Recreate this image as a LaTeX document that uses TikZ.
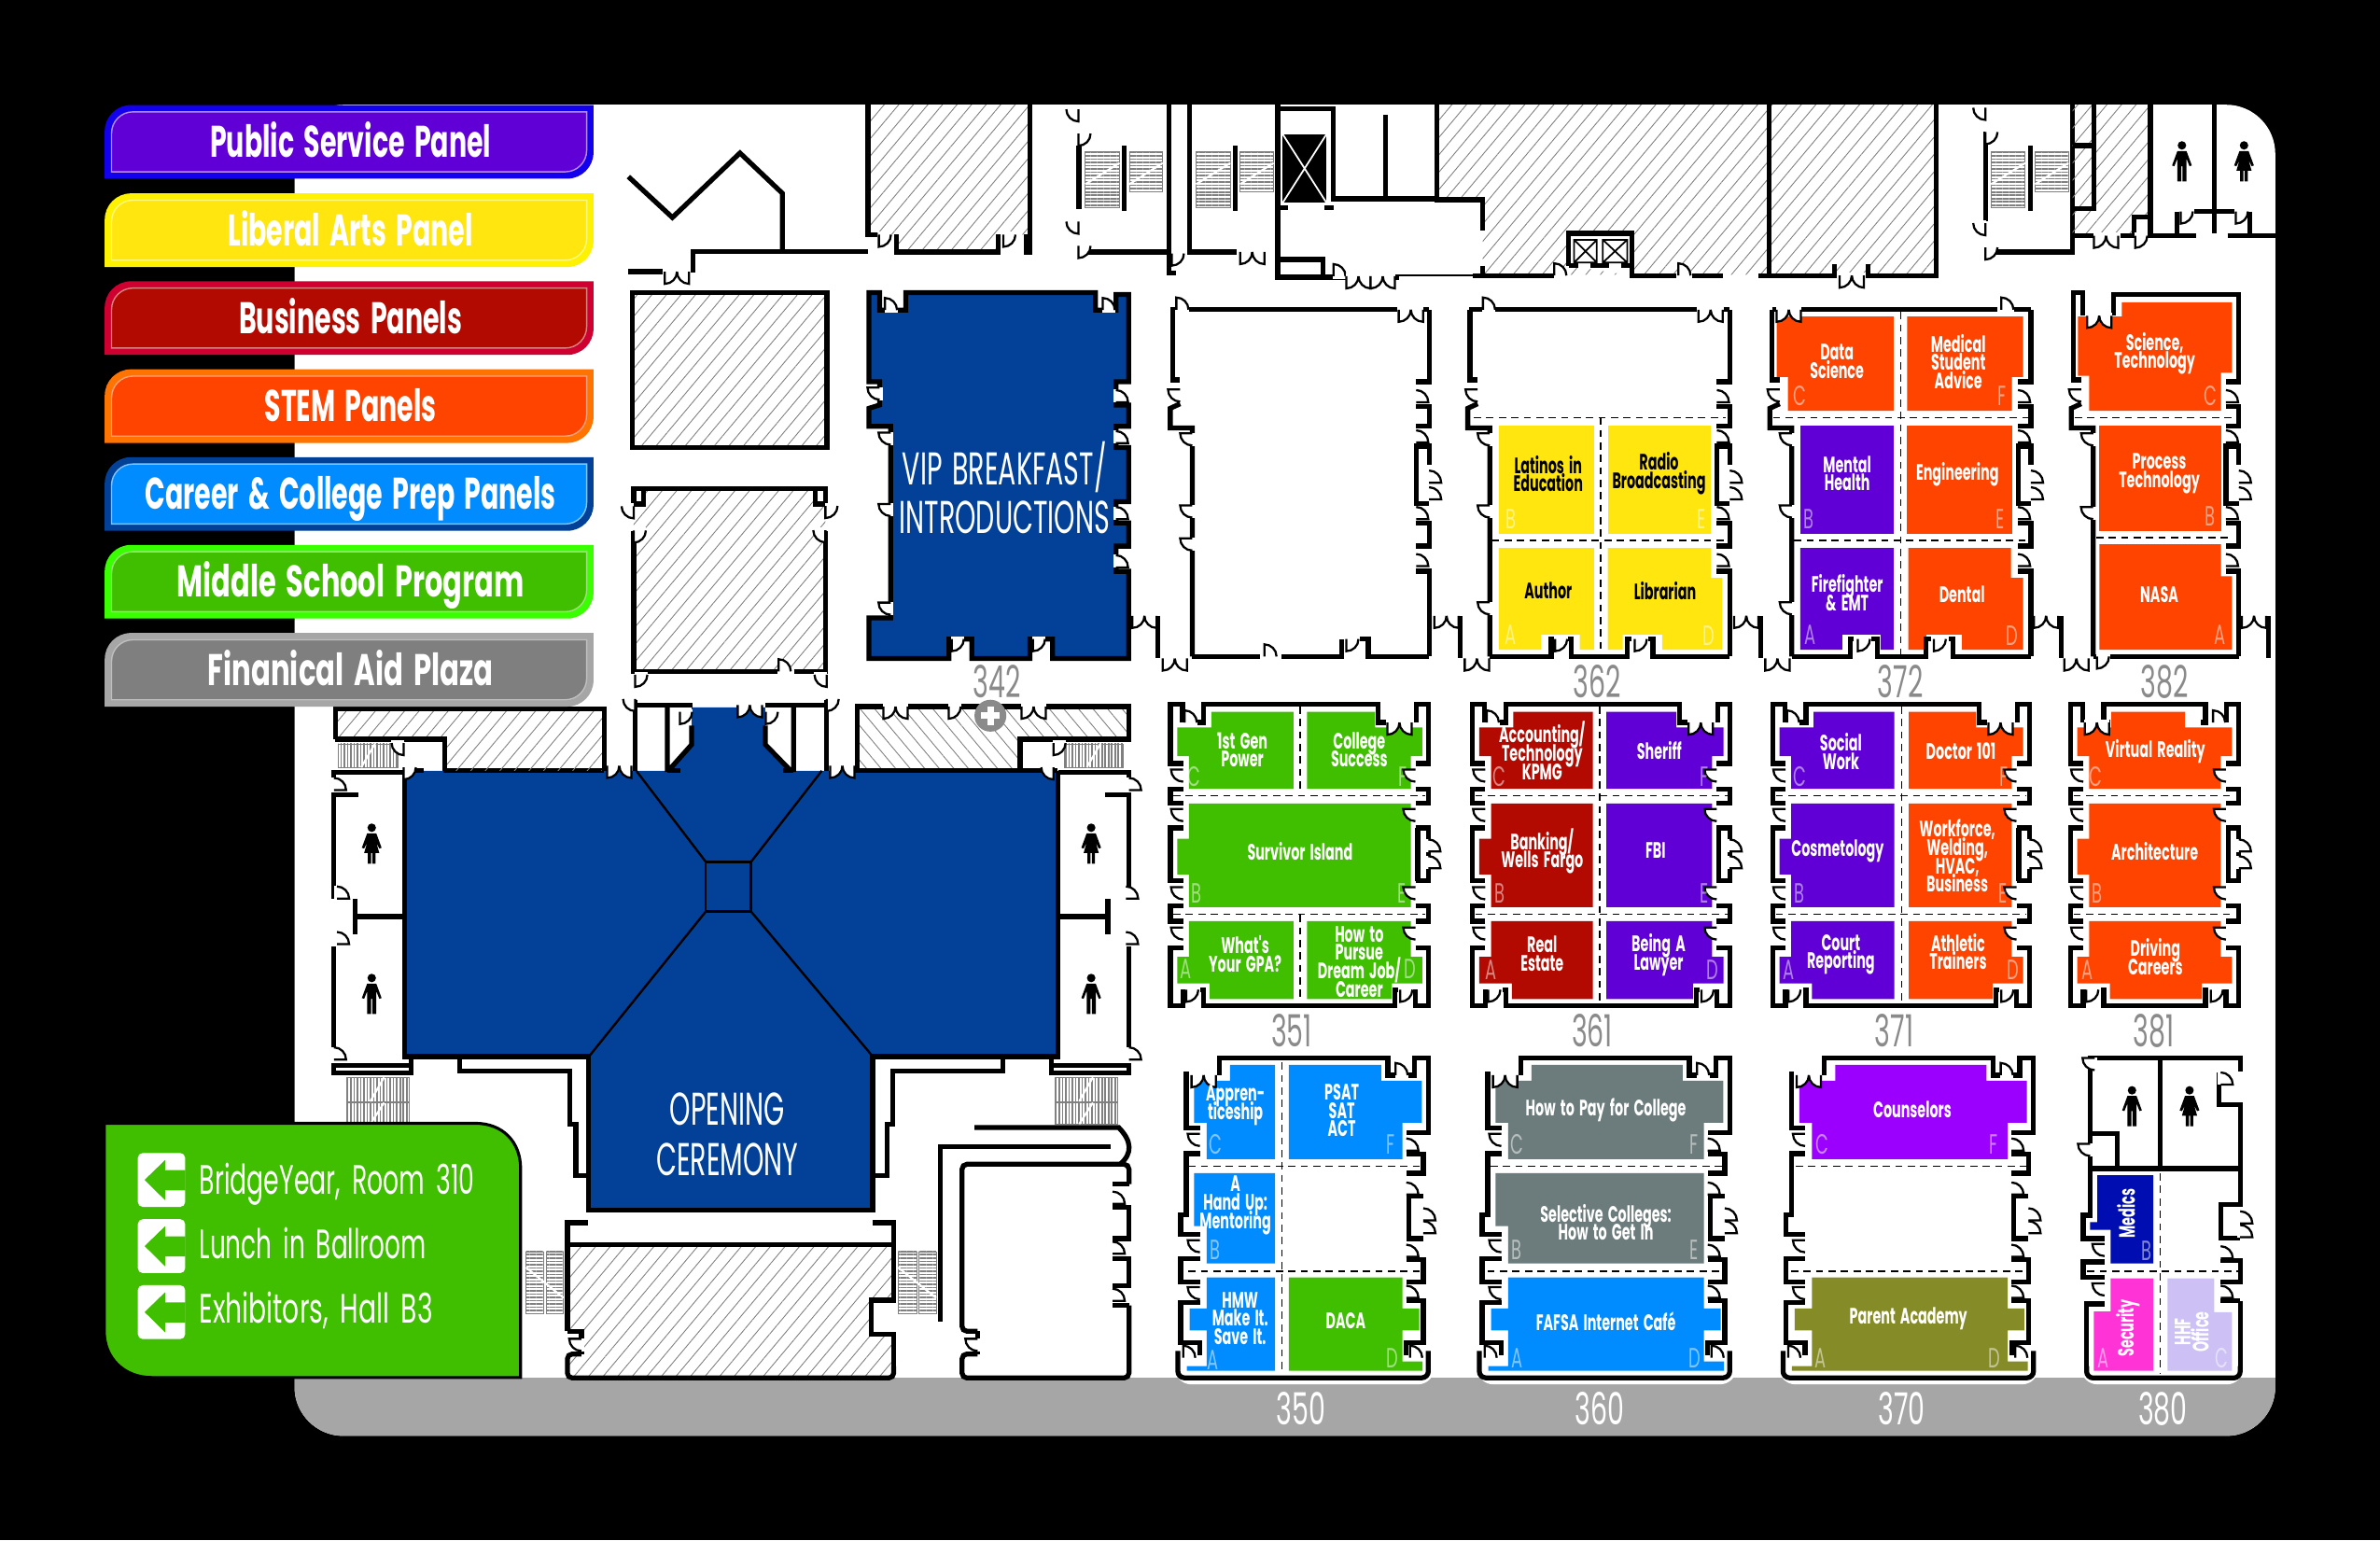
\documentclass[tikz,border=0pt]{standalone}
\usepackage{fontspec}
\usetikzlibrary{patterns.meta}
\newfontfamily\fut[FakeStretch=.6,WordSpace=1.7]{Poppins}
\newfontfamily\futn[FakeStretch=.58,WordSpace=1.4]{Poppins}

\definecolor{cPurple}{RGB}{96,0,214}
\definecolor{cYellow}{RGB}{255,230,15}
\definecolor{cRed}{RGB}{178,10,0}
\definecolor{cOrange}{RGB}{255,68,0}
\definecolor{cBlue}{RGB}{0,140,255}
\definecolor{cGreen}{RGB}{63,191,0}
\definecolor{cGrey}{RGB}{127,127,127}
\definecolor{cHall}{RGB}{3,65,153}
\definecolor{cTeal}{RGB}{108,123,123}
\definecolor{cViolet}{RGB}{155,0,255}
\definecolor{cOlive}{RGB}{133,140,39}
\definecolor{cNavy}{RGB}{0,13,176}
\definecolor{cPink}{RGB}{255,51,214}
\definecolor{cLilac}{RGB}{204,192,245}
\definecolor{cBand}{RGB}{166,166,166}
\definecolor{cNum}{RGB}{138,138,138}

\tikzset{
	wall/.style={line width=1.5pt},
	thinwall/.style={line width=.7pt},
	dsh/.style={line width=.35pt,dash pattern=on 2.2pt off 1.6pt},
	hatch/.style={pattern={Lines[angle=50,distance=3.4pt,line width=.25pt]},pattern color=gray},
	hatchb/.style={pattern={Lines[angle=-50,distance=3.4pt,line width=.25pt]},pattern color=gray},
	du/.style={yscale=-1},
	dr/.style={rotate=90},
	dl/.style={rotate=-90},
	panel/.style={align=center,inner sep=0pt,text=white,font=\fut\bfseries\fontsize{6.8}{5.6}\selectfont\lineskiplimit-10pt},
	letter/.style={inner sep=0pt,text=white,text opacity=.5,font=\fut\fontsize{8.5}{9}\selectfont},
	number/.style={inner sep=0pt,text=cNum,font=\fut\fontsize{13.5}{14}\selectfont},
	bigtxt/.style={inner sep=0pt,text=white,font=\futn\fontsize{14}{15}\selectfont},
	legendtxt/.style={inner sep=0pt,anchor=base,text=white,font=\fut\bfseries\fontsize{13.5}{15}\selectfont},
	signtxt/.style={inner sep=0pt,anchor=base west,text=white,font=\fut\fontsize{12.5}{14}\selectfont},
	door/.pic={
		\fill[white] (-.3,-1.9) rectangle (8.3,1.9);
		\filldraw[fill=white,line width=.65pt] (0,0) -- (0,8) .. controls (4.4,8) and (8,4.4) .. (8,0);
	},
	ddoor/.pic={
		\pic at (0,0) {door};
		\pic[xscale=-1] at (16,0) {door};
	},
	man/.pic={
		\fill (0,-10.7) circle[radius=2.8];
		\fill (-3,-7)--(3,-7)--(6.5,2.5)--(5,3)--(3,-2)--(3,13)--(.4,13)--(.4,3)--(-.4,3)--(-.4,13)--(-3,13)--(-3,-2)--(-5,3)--(-6.5,2.5)--cycle;
	},
	woman/.pic={
		\fill (0,-10.7) circle[radius=2.8];
		\fill (-3,-7)--(3,-7)--(6.5,2.5)--(5,3)--(3,-1)--(5,6)--(2.5,6)--(2.5,13)--(.4,13)--(.4,6)--(-.4,6)--(-.4,13)--(-2.5,13)--(-2.5,6)--(-5,6)--(-3,-1)--(-5,3)--(-6.5,2.5)--cycle;
	},
	upleft/.pic={
		\draw[wall] (1.5,204)--(1.5,250.2)--(6.5,250.2);
		\draw[wall] (6.5,266)--(0,269)--(0,282)--(14.5,282)--(14.5,432.5);
		\pic[dl] at (6.5,256.6) {door};
		\pic[dl] at (14.5,285.5) {door};
	},
	upright/.pic={
		\draw[wall] (0,204)--(0,251.5)--(-8.5,251.5);
		\draw[wall] (-8.5,268)--(0,268)--(0,280.8)--(-8.5,280.8);
		\draw[wall] (0,306)--(0,294)--(-8.5,294)--(-8.5,331.8)--(0,331.8);
		\draw[wall] (-8.5,344.5)--(0,344.5)--(0,359.8)--(-8.5,359.8);
		\draw[wall] (-8.5,376.4)--(0,376.4)--(0,432.5);
		\pic[dr] at (-8.5,265) {door};
		\pic[dr] at (-8.5,291.5) {door};
		\pic[dr] at (0,318) {door};
		\pic[dr] at (0,329) {door};
		\pic[dr] at (-8.5,342) {door};
		\pic[dr] at (-8.5,373) {door};
	},
	midside/.pic={
		\draw[wall] (8,476)--(8,464)--(0,464)--(0,503)--(8.5,503);
		\draw[wall] (8.5,520)--(0,520)--(0,529)--(8.5,529);
		\draw[wall] (8.5,545.5)--(0,545.5)--(0,580.2)--(8.5,580.2);
		\draw[wall] (8.5,596.6)--(0,596.6)--(0,606.9)--(8.5,606.9);
		\draw[wall] (8.5,624.3)--(0,624.3)--(0,662.5)--(8.5,662.5)--(8.5,652);
		\pic[dl] at (8.5,507) {door};
		\pic[dl] at (8.5,533) {door};
		\pic[dl] at (8.5,584.5) {door};
		\pic[dl] at (8.5,611) {door};
	},
	closet/.pic={
		\draw[wall] (-7,545.5)--(-7,580.2);
		\pic[dr] at (0,561) {door};
		\pic[dr] at (0,572) {door};
	},
	lowroom/.pic={
		\draw[wall] (5.6,9.2)--(5.6,46)--(14.5,46);
		\draw[wall] (14.5,63)--(5.6,63)--(5.6,103.5)--(1.8,103.5)--(1.8,116)--(14.5,116);
		\draw[wall] (14.5,132)--(1.8,132)--(1.8,147.6)--(14.5,147.6);
		\draw[wall] (14.5,161)--(1.8,161)--(1.8,187.6)--(14.5,187.6)--(14.5,196);
		\draw[wall,rounded corners=2pt] (0,193)--(0,210.7)--(165,210.7)--(165,193);
		\draw[wall] (27.3,11.3)--(27.3,0)--(138.3,0)--(138.3,11.3)--(143.4,11.3);
		\draw[wall] (151.5,11.3)--(156,11.3)--(156,0)--(165,0)--(165,49)--(150.5,49);
		\draw[wall] (150.5,63.5)--(161.7,63.5)--(161.7,76)--(150.5,76);
		\draw[wall] (161.7,91)--(152,91)--(152,119)--(161.7,119);
		\draw[wall] (150.5,133)--(161.7,133)--(161.7,147.6)--(150.5,147.6);
		\draw[wall] (150.5,160)--(161.7,160)--(161.7,187.6)--(150.5,187.6)--(150.5,196);
		\pic[du] at (9,11.3) {ddoor};
		\pic[du] at (143.4,11.3) {door};
		\pic[dl] at (14.5,50) {door};
		\pic[dl] at (14.5,120) {door};
		\pic[dl] at (14.5,151) {door};
		\pic[dr] at (150.5,61) {door};
		\pic[dr] at (150.5,90) {door};
		\pic[dr] at (150.5,131) {door};
		\pic[dr] at (150.5,158) {door};
		\pic[dr] at (161.7,107) {door};
		\pic[dr] at (161.7,115.5) {door};
		\pic[du] at (3.5,197.5) {door};
		\pic[du] at (153,197.5) {door};
	},
	restroom/.pic={
		\draw[wall] (220,512)--(220,508.8)--(266.5,508.8);
		\draw[wall] (236,523.8)--(220,523.8)--(220,592);
		\draw[wall] (220,623.8)--(220,690);
		\draw[wall] (234,592)--(234,615.5);
		\draw[wall] (234,603.8)--(266.5,603.8);
		\draw[wall] (220,702) rectangle (271,707);
		\draw[wall] (271,696)--(271,702);
		\pic[dr] at (220,520.5) {door};
		\pic[dr] at (222,592) {door};
		\pic[dr] at (222,622) {door};
		\pic[dr] at (220,698) {door};
		\pic at (244.9,556) {woman};
		\pic at (244.9,655) {man};
	},
}

% one wall row of the building, cut down to a column by the clip
\newcommand{\rowT}[2]{(#1+27,469)--(#2-35,469)--(#2-35,479.3)--(#2-4,479.3)--(#2-4,498.2)--(#2-11.5,498.2)--(#2-11.5,519.7)--(#1+12.3,519.7)--(#1+12.3,498.2)--(#1+4.6,498.2)--(#1+4.6,479.3)--(#1+27,479.3)--cycle}
\newcommand{\rowM}[2]{(#1+12.3,529.4)--(#2-11.5,529.4)--(#2-11.5,597.6)--(#1+12.3,597.6)--(#1+12.3,576.1)--(#1+4.6,576.1)--(#1+4.6,552.5)--(#1+12.3,552.5)--cycle}
\newcommand{\rowB}[2]{(#1+12.3,606.9)--(#2-11.5,606.9)--(#2-11.5,630.4)--(#2-4,630.4)--(#2-4,647.9)--(#2-24,647.9)--(#2-24,658.1)--(#1+26,658.1)--(#1+26,647.9)--(#1+4.6,647.9)--(#1+4.6,630.4)--(#1+12.3,630.4)--cycle}
\newcommand{\lowT}[1]{(#1+34.4,701.5)--(#1+134,701.5)--(#1+134,712)--(#1+160.7,712)--(#1+160.7,739.6)--(#1+148,739.6)--(#1+148,763.6)--(#1+19,763.6)--(#1+19,739.6)--(#1+10.7,739.6)--(#1+10.7,712)--(#1+34.4,712)--cycle}
\newcommand{\lowM}[1]{(#1+10.7,772.9)--(#1+148,772.9)--(#1+148,832.3)--(#1+19,832.3)--(#1+19,807.7)--(#1+10.7,807.7)--cycle}
\newcommand{\lowB}[1]{(#1+19,841.5)--(#1+148,841.5)--(#1+148,862)--(#1+159,862)--(#1+159,876.4)--(#1+148,876.4)--(#1+148,896.9)--(#1+161.2,896.9)--(#1+161.2,903)--(#1+5.9,903)--(#1+5.9,900)--(#1+19,900)--(#1+19,876.4)--(#1+7.7,876.4)--(#1+7.7,862)--(#1+19,862)--cycle}
\newcommand{\cell}[4]{\begin{scope}\clip (#1,0) rectangle (#2,1015);\fill[#3] #4;\end{scope}}

\newcommand{\legendbox}[6]{
	\fill[#4] (69,#2+48.5) [rounded corners=8pt] -- (69,#2) [sharp corners] -- (391,#2) [rounded corners=8pt] -- (391,#2+48.5) [sharp corners] -- cycle;
	\filldraw[fill=#3,draw=#5,line width=.4pt] (73.5,#2+44) [rounded corners=6.5pt] -- (73.5,#2+4.5) [sharp corners] -- (386.5,#2+4.5) [rounded corners=6.5pt] -- (386.5,#2+44) [sharp corners] -- cycle;
	\node[legendtxt] (#1) at (231,#2+34.5) {#6};
}
\newcommand{\arrowicon}[1]{
	\fill[white,rounded corners=1.5pt] (90.8,#1) rectangle (122,#1+35.5);
	\fill[cGreen] (95.3,#1+17.7)--(108.7,#1+4.7)--(108.7,#1+11.3)--(122.1,#1+11.3)--(122.1,#1+24.6)--(108.7,#1+24.6)--(108.7,#1+31)--cycle;
}
\newcommand{\stairs}[5]{
	\draw[line width=.2pt,gray,pattern={Lines[angle=#1,distance=1pt,line width=.45pt]},pattern color=gray] (#2,#3) rectangle (#4,#5);
}
\newcommand{\stairset}[1]{
	\stairs{0}{#1}{100}{#1+22.5}{137}
	\stairs{0}{#1+29}{100}{#1+51}{126.5}
	\draw[wall] (#1+25.8,96)--(#1+25.8,138.8);
	\draw[white,line width=.6pt] (#1,121.4)--(#1+22.5,107.4);
	\draw[white,line width=.6pt] (#1+29,121.4)--(#1+51,107.4);
}
\newcommand{\midroom}[2]{
	\pic at (#1,0) {midside};
	\pic[xscale=-1] at (#2,0) {midside};
	\pic at (#2,0) {closet};
	\draw[wall] (#1+20,652)--(#1+22,652)--(#1+22,662.5)--(#2-22,662.5)--(#2-22,652)--(#2-20,652);
	\pic at (#1+10.5,652) {door};
	\pic at (#2-18.5,652) {door};
}
\newcommand{\midtop}[2]{
	\draw[wall] (#1+18,476)--(#1+22,476)--(#1+22,464)--(#2-33,464)--(#2-33,476)--(#2-28,476);
	\pic[du] at (#1+9.5,476) {door};
	\pic[du] at (#2-27,476) {ddoor};
}

\begin{document}
\begin{tikzpicture}[x=0.016263cm,y=-0.016263cm]
\useasboundingbox (0,0) rectangle (1568,1014.6);
\fill[black] (0,0) rectangle (1568,1014.6);
\fill[white,rounded corners=15pt] (194,69) rectangle (1499,946);
\begin{scope}
\clip[rounded corners=15pt] (194,69) rectangle (1499,946);
\fill[cBand] (194,907.5) rectangle (1499,946);
\end{scope}
\fill[white,rounded corners=5pt] (774,880) rectangle (945,912);
\fill[white,rounded corners=5pt] (973,880) rectangle (1144,912);
\fill[white,rounded corners=5pt] (1172,880) rectangle (1343,912);
\fill[white,rounded corners=5pt] (1371,880) rectangle (1478,912);

% top strip
\draw[wall] (414,116.4)--(443,143.3)--(487.5,100.8)--(515.5,127.4)--(515.5,165.8);
\draw[wall] (456.5,179.6)--(456.5,165.8)--(571.8,165.8);
\draw[wall] (414,179)--(436.5,179);
\pic[du] at (438,179) {ddoor};

\fill[hatch] (571.8,69)--(678.5,69)--(678.5,166)--(676,166)--(676,154.6)--(657.5,154.6)--(657.5,166)--(590.8,166)--(590.8,154.6)--(571.8,154.6)--cycle;
\draw[wall] (578,154.6)--(571.8,154.6)--(571.8,69);
\draw[wall] (590.8,154.6)--(590.8,166)--(657.5,166)--(657.5,154.6);
\draw[wall] (676,154.6)--(676,166)--(678.5,166)--(678.5,69);
\pic at (579,154.6) {door};
\pic at (661,154.6) {door};

\stairset{715}
\stairset{788}
\stairset{1311.7}
\draw[wall] (710.8,96)--(710.8,138);
\draw[wall] (710,166)--(768.5,166);
\draw[wall] (770,69)--(770,180)--(775,180);
\draw[wall] (783.5,69)--(783.5,166)--(815,166);
\pic[dr] at (710.5,88) {ddoor};
\pic[dr] at (710.5,162) {ddoor};
\pic at (772,167) {door};
\pic[du] at (817,166) {ddoor};

\fill[hatch] (946.8,69)--(1275.5,69)--(1275.5,181)--(976.8,181)--(976.8,131.6)--(946.8,131.6)--cycle;
\draw[wall] (841.8,69)--(841.8,182.6)--(921.8,182.6);
\draw[wall] (841.8,71.7)--(878.5,71.7)--(878.5,130.9)--(946.8,130.9);
\draw[wall] (912.8,75.5)--(912.8,130.9);
\draw[wall] (946.8,69)--(946.8,131.6)--(976.8,131.6)--(976.8,152);
\draw[wall] (976.8,175)--(976.8,181);
\draw[thinwall] (921.8,181.5)--(970,181.5);
\draw[wall] (970,181.5)--(1023.5,181.5);
\draw[wall] (841.8,171)--(871.8,171)--(871.8,182);
\fill[black] (845,88.3) rectangle (874,133.7);
\draw[white,line width=.5pt] (845,88.3)--(874,133.7) (874,88.3)--(845,133.7);
\draw[wall] (841.8,136.7)--(848.5,136.7);
\draw[wall] (872.8,136.7)--(878.5,136.7);
\pic[du] at (878.5,182) {door};
\pic[du] at (887,182) {ddoor};
\pic[du] at (903,182) {ddoor};
\pic[du] at (1024,181.5) {door};

\draw[wall,fill=white] (1033.5,175)--(1033.5,153.8)--(1075,153.8)--(1075,181.5);
\fill[white] (1037,158) rectangle (1072,173);
\draw[line width=.5pt] (1037,158) rectangle (1052,173) (1037,158)--(1052,173) (1052,158)--(1037,173);
\draw[line width=.5pt] (1056,158) rectangle (1072,173) (1056,158)--(1072,173) (1072,158)--(1056,173);
\draw[wall] (1033.5,175)--(1040,175);
\draw[wall] (1048,175)--(1060,175);
\draw[wall] (1068,175)--(1075,175);
\draw[wall] (1073.5,181.5)--(1104.3,181.5);
\pic[du] at (1105.8,181.5) {door};
\draw[wall] (1114.6,181.5)--(1135,181.5);
\draw[wall] (1158.7,181.5)--(1208.7,181.5)--(1208.7,174);
\pic[du] at (1212,181.5) {ddoor};
\draw[wall] (1230.8,174)--(1230.8,181.5)--(1275.5,181.5)--(1275.5,69);
\draw[wall] (1165.5,69)--(1165.5,181.5);

\draw[wall] (1308,87)--(1308,145.6);
\draw[wall] (1308,166)--(1365.5,166)--(1365.5,69);
\pic[dr] at (1308,87) {ddoor};
\pic[dr] at (1308,163) {ddoor};
\fill[hatch] (1365.5,69)--(1416.7,69)--(1416.7,143)--(1405.8,143)--(1405.8,155.3)--(1365.5,155.3)--cycle;
\draw[wall] (1379.3,69)--(1379.3,137.5)--(1365.5,137.5);
\draw[wall] (1365.5,96)--(1379.3,96);
\draw[wall] (1365.5,155.3)--(1379.3,155.3);
\pic at (1379.5,155.3) {ddoor};
\draw[wall] (1397,155.3)--(1405.8,155.3)--(1405.8,143)--(1416.7,143);
\draw[wall] (1416.7,69)--(1416.7,155.3)--(1447,155.3);
\draw[wall] (1434.3,139.3)--(1434.3,155.3);
\draw[wall] (1445.5,139.3)--(1472,139.3);
\draw[wall] (1458.7,69)--(1458.7,154);
\draw[wall] (1482.3,139.3)--(1482.3,155.3);
\draw[wall] (1467.6,155.3)--(1499,155.3);
\pic at (1406.7,155.3) {door};
\pic at (1436.7,139.3) {door};
\pic at (1473,139.3) {door};
\pic at (1437.5,106.5) {man};
\pic at (1478.4,106.5) {woman};

% hatched boxes by the hall
\draw[wall,hatch] (416.5,192.8) rectangle (544.8,294.9);
\fill[hatch] (417.5,321.8) rectangle (543.8,442.3);
\draw[wall] (417.5,332)--(417.5,321.8)--(543.8,321.8)--(543.8,332);
\draw[wall] (417.5,350)--(417.5,442.3)--(512,442.3);
\draw[wall] (523,442.3)--(543.8,442.3)--(543.8,350);
\draw[wall,fill=white] (417.5,321.8) rectangle (424,332);
\draw[wall,fill=white] (537.3,321.8) rectangle (543.8,332);
\pic[dr] at (417.5,349.5) {ddoor};
\pic[dl] at (543.8,333.3) {ddoor};
\pic[du] at (513,442.3) {door};

% vip room
\filldraw[wall,fill=cHall] (572.5,192.8)--(572.5,251.5)--(579.5,251.5)--(579.5,266.8)--(572.5,269)--(572.5,280.8)--(586.8,280.8)--(586.8,407)--(572.5,407)--(572.5,433.8)--(625.2,433.8)--(625.2,421)--(640.2,421)--(640.2,433.8)--(678.5,433.8)--(678.5,421)--(693.5,421)--(693.5,433.8)--(743.5,433.8)--(743.5,376.4)--(735.2,376.4)--(735.2,359.8)--(743.5,359.8)--(743.5,344.5)--(735.2,344.5)--(735.2,330.5)--(743.5,330.5)--(743.5,294.8)--(735.2,294.8)--(735.2,280.8)--(743.5,280.8)--(743.5,266.8)--(735.2,266.8)--(735.2,251.5)--(743.5,251.5)--(743.5,194)--(735.2,194)--(735.2,204.3)--(721.8,204.3)--(721.8,192.8)--(596.8,192.8)--(596.8,204.3)--(579.5,204.3)--(579.5,192.8)--cycle;
\pic[du] at (583,204.3) {door};
\pic[du] at (726.5,204.3) {door};
\pic[dl] at (579.5,255.3) {door};
\pic[dl] at (586.8,285) {door};
\pic[dl] at (586.8,332) {door};
\pic[dl] at (586.8,397) {door};
\pic[dr] at (735.2,265) {door};
\pic[dr] at (735.2,292) {door};
\pic[dr] at (735.2,342) {door};
\pic[dr] at (735.2,373.8) {door};
\pic at (627,421) {door};
\pic at (680.5,421) {door};
\draw[wall] (762.8,405.7)--(762.8,433.8);
\pic at (746,405.7) {ddoor};
\pic[du] at (766,433.8) {ddoor};

% blank room
\pic at (771,0) {upleft};
\pic at (941.5,0) {upright};
\draw[wall] (771,204)--(774,204);
\draw[wall] (783.5,204)--(920.2,204);
\draw[wall] (938,204)--(941.5,204);
\pic[du] at (775,204) {door};
\pic[du] at (921.5,204) {ddoor};
\draw[wall] (785.5,432.5)--(830,432.5);
\draw[wall] (844.5,432.5)--(884,432.5)--(884,421);
\draw[wall] (896,421)--(901.5,421)--(901.5,432.5)--(941.5,432.5);
\pic[du] at (833,432.5) {door};
\pic at (887,421) {door};
\pic[dl] at (785.5,333) {door};
\pic[dl] at (785.5,354.7) {door};
\draw[wall] (961.8,405.7)--(961.8,433.8);
\pic at (945,405.7) {ddoor};
\pic[du] at (965,433.8) {ddoor};

% room 362
\fill[cYellow] (987.5,280.3) rectangle (1050.2,351.7);
\fill[cYellow] (1059.3,280.3) rectangle (1127.3,351.7);
\fill[cYellow] (987.5,361)--(1050.2,361)--(1050.2,428)--(1040.8,428)--(1040.8,418)--(1015.2,418)--(1015.2,428)--(987.5,428)--cycle;
\fill[cYellow] (1059.3,361)--(1127.3,361)--(1127.3,380.7)--(1134.6,380.7)--(1134.6,428)--(1095,428)--(1095,418)--(1069,418)--(1069,428)--(1059.3,428)--cycle;
\draw[dsh] (971,275)--(1137,275);
\draw[dsh] (983,356)--(1137,356);
\draw[dsh] (1054.5,275)--(1054.5,431);
\pic at (967,0) {upleft};
\pic at (1139.6,0) {upright};
\draw[wall] (968,204)--(976.8,204);
\draw[wall] (985,204)--(1117.6,204);
\draw[wall] (1136,204)--(1139.6,204);
\pic[du] at (977,204) {door};
\pic[du] at (1119,204) {ddoor};
\draw[wall] (981.5,432.5)--(1022,432.5)--(1022,421)--(1024,421);
\draw[wall] (1033,421)--(1035,421)--(1035,432.5)--(1072,432.5)--(1072,421)--(1075,421);
\draw[wall] (1086,421)--(1089,421)--(1089,432.5)--(1139.6,432.5);
\pic at (1024.5,421) {door};
\pic at (1077,421) {door};
\pic[dl] at (981.5,333) {door};
\pic[dl] at (981.5,396.8) {door};
\draw[wall] (1160,405.7)--(1160,433.8);
\pic at (1142.5,405.7) {ddoor};
\pic[du] at (1163,433.8) {ddoor};

% room 372
\fill[cOrange] (1170.5,208.6)--(1247.6,208.6)--(1247.6,270.6)--(1177.9,270.6)--(1177.9,248.4)--(1170.5,248.4)--cycle;
\fill[cOrange] (1256.4,208.6)--(1332.9,208.6)--(1332.9,248.4)--(1325.5,248.4)--(1325.5,270.6)--(1256.4,270.6)--cycle;
\fill[cPurple] (1186,280.3) rectangle (1247.6,351.7);
\fill[cOrange] (1256.4,280.3) rectangle (1325.5,351.7);
\fill[cPurple] (1186,361)--(1247.6,361)--(1247.6,428)--(1239,428)--(1239,418)--(1213.7,418)--(1213.7,428)--(1186,428)--cycle;
\fill[cOrange] (1257.3,361)--(1324.9,361)--(1324.9,380.7)--(1332.9,380.7)--(1332.9,428)--(1292.6,428)--(1292.6,418)--(1269,418)--(1269,428)--(1257.3,428)--cycle;
\draw[dsh] (1168,275)--(1336,275);
\draw[dsh] (1182,356)--(1336,356);
\draw[dsh] (1252,205.6)--(1252,431);
\pic at (1166,0) {upleft};
\pic at (1338,0) {upright};
\draw[wall] (1167.5,204)--(1170,204);
\draw[wall] (1186,204)--(1316,204);
\draw[wall] (1327,204)--(1338,204);
\pic[du] at (1170.5,204) {ddoor};
\pic[du] at (1318.5,204) {door};
\draw[wall] (1180.5,432.5)--(1219,432.5)--(1219,421)--(1221,421);
\draw[wall] (1233,421)--(1236.7,421)--(1236.7,432.5)--(1269,432.5)--(1269,421)--(1272,421);
\draw[wall] (1284,421)--(1286.7,421)--(1286.7,432.5)--(1338,432.5);
\pic at (1224,421) {door};
\pic at (1274,421) {door};
\pic[dl] at (1180.5,333) {door};
\pic[dl] at (1180.5,396.8) {door};
\draw[wall] (1357.8,405.7)--(1357.8,433.8);
\pic at (1340,405.7) {ddoor};
\pic[du] at (1360,433.8) {ddoor};

% room 382
\fill[cOrange] (1397.9,199.2)--(1470.5,199.2)--(1470.5,245.6)--(1463.2,245.6)--(1463.2,270.6)--(1376.4,270.6)--(1376.4,247.6)--(1369,247.6)--(1369,208.6)--(1397.9,208.6)--cycle;
\fill[cOrange] (1383.2,280.3) rectangle (1463.2,349.6);
\fill[cOrange] (1383.2,358.5)--(1463.2,358.5)--(1463.2,379.7)--(1470.5,379.7)--(1470.5,428)--(1383.2,428)--cycle;
\draw[dsh] (1367,275)--(1471,275);
\draw[dsh] (1381,354.2)--(1471,354.2);
\pic at (1364.6,0) {upleft};
\pic at (1475,0) {upright};
\draw[wall] (1366,204)--(1366,192.8)--(1372,192.8)--(1372,208);
\draw[wall] (1392.6,208)--(1392.6,194)--(1475,194)--(1475,204);
\draw[wall] (1379,432.5)--(1381,432.5);
\draw[wall] (1390,432.5)--(1475,432.5);
\pic[du] at (1375,208) {ddoor};
\pic at (1381.5,432.5) {door};
\pic[dl] at (1379,334) {door};
\draw[wall] (1494.6,405.7)--(1494.6,433.8);
\pic at (1477,405.7) {ddoor};

% main hall
\fill[cHall] (266.5,507.8)--(439.7,507.8)--(455.7,490.5)--(455.7,466)--(504.2,466)--(504.2,490.5)--(520.2,507.8)--(696.8,507.8)--(696.8,696)--(575,696)--(575,797)--(387.6,797)--(387.6,696)--(266.5,696)--cycle;
\draw[thinwall] (465,567.8) rectangle (494.8,600.5);
\draw[thinwall] (465,567.8)--(419.2,507.8);
\draw[thinwall] (494.8,567.8)--(541.4,507.8);
\draw[thinwall] (465,600.5)--(388,696);
\draw[thinwall] (494.8,600.5)--(575,696);
\draw[wall] (266.5,507.8)--(266.5,696)--(387.6,696)--(387.6,797)--(575,797)--(575,696)--(696.8,696)--(696.8,507.8);
\draw[wall] (266.5,507.8)--(279,507.8);
\draw[wall] (292,507.8)--(398,507.8);
\draw[wall] (672,507.8)--(696.8,507.8);

\fill[hatch] (221,467)--(398,467)--(398,507.8)--(293,507.8)--(293,487)--(221,487)--cycle;
\draw[wall] (221,487)--(221,467)--(398,467)--(398,507.8);
\draw[wall] (221,487)--(293,487)--(293,507.8);
\fill[hatchb] (565,465.5)--(743.8,465.5)--(743.8,487)--(672,487)--(672,507.8)--(565,507.8)--cycle;
\draw[wall] (565,465.5)--(743.8,465.5)--(743.8,487)--(672,487)--(672,507.8)--(565,507.8)--cycle;
\pic at (582,465.5) {ddoor};
\pic at (625,465.5) {door};
\pic at (673,465.5) {ddoor};
\fill[cNum] (652.5,471.5) circle[radius=10.5];
\fill[white] (650.3,465.5) rectangle (654.7,477.5);
\fill[white] (646.5,469.3) rectangle (658.5,473.7);

\draw[wall] (418.5,461)--(418.5,507.8);
\draw[wall] (544.6,461)--(544.6,507.8);
\draw[wall] (418.5,464.5)--(456,464.5);
\draw[wall] (504,464.5)--(544.6,464.5);
\draw[wall] (439.7,466)--(439.7,507)--(441,507)--(455.7,490.5)--(455.7,478);
\draw[wall] (504.2,478)--(504.2,490.5)--(520.2,507)--(522.8,507)--(522.8,466);
\draw[wall] (439.7,507.8)--(448,507.8);
\draw[wall] (516,507.8)--(522.8,507.8);
\pic[dl] at (418.5,444.5) {ddoor};
\pic[dr] at (544.6,460.5) {ddoor};
\pic at (486,464.5) {ddoor};
\pic at (448,469) {door};
\pic at (504.5,469) {door};
\pic at (400,504.5) {ddoor};
\pic at (547,504.5) {ddoor};

\pic at (0,0) {restroom};
\pic[xscale=-1] at (963.8,0) {restroom};

\stairs{90}{223}{490}{262}{505.5}
\draw[white,line width=.6pt] (238,505.5)--(247,490);
\pic[dr] at (266,505.5) {ddoor};
\stairs{90}{701}{490}{739.7}{505.5}
\draw[white,line width=.6pt] (716,505.5)--(725,490);
\pic[dl] at (694,489.5) {ddoor};
\stairs{90}{228.5}{709.8}{269.5}{725.5}
\stairs{90}{228.5}{726.5}{269.5}{740.5}
\draw[white,line width=.6pt] (244,725.5)--(253,709.8) (244,740.5)--(253,726.5);
\stairs{90}{695.3}{709.8}{736.3}{725.5}
\stairs{90}{695.3}{726.5}{736.3}{740.5}
\draw[white,line width=.6pt] (711,725.5)--(720,709.8) (711,740.5)--(720,726.5);
\stairs{0}{346.6}{824.5}{358}{865.5}
\stairs{0}{360}{824.5}{371.2}{865.5}
\draw[white,line width=.6pt] (346.6,835)--(371.2,855);
\stairs{0}{591.7}{824.5}{604}{865.5}
\stairs{0}{605.5}{824.5}{616.7}{865.5}
\draw[white,line width=.6pt] (591.7,835)--(616.7,855);

\draw[wall] (303,697)--(303,705.5)--(375.6,705.5)--(375.6,740.5)--(379.4,740.5)--(379.4,774.5)--(387,774.5);
\draw[wall] (660.6,697)--(660.6,705.5)--(588,705.5)--(588,740.5)--(584.3,740.5)--(584.3,774.5)--(576,774.5);
\draw[wall] (373.8,819)--(373.8,805.5)--(387.6,805.5);
\draw[wall] (575,805.5)--(588.8,805.5)--(588.8,819);

\fill[hatch] (373.8,819.8)--(588.8,819.8)--(588.8,856.5)--(573.8,856.5)--(573.8,878.8)--(588.8,878.8)--(588.8,907.8)--(373.8,907.8)--(373.8,892)--(383,892)--(383,877)--(373.8,877)--cycle;
\draw[wall] (373.8,877)--(373.8,819.8)--(588.8,819.8)--(588.8,856.5)--(573.8,856.5)--(573.8,878.8)--(588.8,878.8)--(588.8,903);
\draw[wall,rounded corners=1.5pt] (588.8,900)--(588.8,907.8)--(373.8,907.8)--(373.8,892)--(383,892);
\draw[wall] (373.8,877)--(383,877)--(383,892);
\pic[dl] at (383,882) {door};

% lower right room beside the hall
\draw[wall,rounded corners=1.5pt] (743.8,780)--(743.8,767)--(633.8,767)--(633.8,877)--(644,877);
\draw[wall] (644,877)--(644,892);
\draw[wall,rounded corners=1.5pt] (644,892)--(633.8,892)--(633.8,907.8)--(743.8,907.8)--(743.8,860);
\draw[wall] (743.8,780)--(733,780);
\draw[wall] (733,795.5)--(743.8,795.5)--(743.8,816)--(733,816);
\draw[wall] (733,829)--(743.8,829)--(743.8,847)--(733,847);
\draw[wall] (733,860)--(743.8,860);
\pic[dr] at (733,793) {door};
\pic[dr] at (733,826) {door};
\pic[dr] at (733,857) {door};
\pic[dl] at (644,882) {door};
\draw[wall] (619.7,870.5)--(619.7,755.5)--(731.5,755.5);
\draw[wall] (642,742.8)--(737,742.8) .. controls (746,752) and (746,760) .. (738,767);

% middle row
\cell{771}{852.2}{cGreen}{\rowT{771}{941}}
\cell{861.1}{1000}{cGreen}{\rowT{771}{941}}
\cell{771}{1000}{cGreen}{\rowM{771}{941}}
\cell{771}{852.2}{cGreen}{\rowB{771}{941}}
\cell{861.1}{1000}{cGreen}{\rowB{771}{941}}
\cell{970}{1049.4}{cRed}{\rowT{970}{1139.5}}
\cell{1058.3}{1160}{cPurple}{\rowT{970}{1139.5}}
\cell{970}{1049.4}{cRed}{\rowM{970}{1139.5}}
\cell{1058.3}{1160}{cPurple}{\rowM{970}{1139.5}}
\cell{970}{1049.4}{cRed}{\rowB{970}{1139.5}}
\cell{1058.3}{1160}{cPurple}{\rowB{970}{1139.5}}
\cell{1167}{1248}{cPurple}{\rowT{1167.8}{1336.8}}
\cell{1257.5}{1350}{cOrange}{\rowT{1167.8}{1336.8}}
\cell{1167}{1248}{cPurple}{\rowM{1167.8}{1336.8}}
\cell{1257.5}{1350}{cOrange}{\rowM{1167.8}{1336.8}}
\cell{1167}{1248}{cPurple}{\rowB{1167.8}{1336.8}}
\cell{1257.5}{1350}{cOrange}{\rowB{1167.8}{1336.8}}
\cell{1364}{1480}{cOrange}{\rowT{1364}{1474.5}}
\cell{1364}{1480}{cOrange}{\rowM{1364}{1474.5}}
\cell{1364}{1480}{cOrange}{\rowB{1364}{1474.5}}

\draw[dsh] (773,524.4)--(939,524.4);
\draw[dsh] (773,602.1)--(939,602.1);
\draw[dsh] (856.5,465.4)--(856.5,521.8);
\draw[dsh] (856.5,602.7)--(856.5,660);
\draw[dsh] (972,524.4)--(1139,524.4);
\draw[dsh] (972,602.1)--(1139,602.1);
\draw[dsh] (1054,465.4)--(1054,661);
\draw[dsh] (1170,524.4)--(1335,524.4);
\draw[dsh] (1170,602.1)--(1335,602.1);
\draw[dsh] (1253,465.4)--(1253,661);
\draw[dsh] (1366,524.4)--(1472,524.4);
\draw[dsh] (1366,602.1)--(1472,602.1);

\midroom{771}{941}
\midtop{771}{941}
\midroom{970}{1139.5}
\midtop{970}{1139.5}
\midroom{1167.8}{1337}
\midtop{1167.8}{1337}
\midroom{1364}{1475}
\draw[wall] (1390,476)--(1386,476)--(1386,464)--(1453,464)--(1453,476)--(1450,476);
\pic[du] at (1373.5,476) {ddoor};
\pic[du] at (1458,476) {door};

% lower row
\cell{776}{840}{cBlue}{\lowT{776}}
\cell{849.1}{945}{cBlue}{\lowT{776}}
\cell{776}{840}{cBlue}{\lowM{776}}
\cell{776}{840}{cBlue}{\lowB{776}}
\cell{849.1}{945}{cGreen}{\lowB{776}}
\fill[cTeal] \lowT{974.6};
\fill[cTeal] \lowM{974.6};
\fill[cBlue] \lowB{974.6};
\fill[cViolet] \lowT{1174.7};
\fill[cOlive] \lowB{1174.7};
\fill[cNavy] (1381.8,774.3)--(1418.7,774.3)--(1418.7,832.3)--(1390.5,832.3)--(1390.5,810.2)--(1377,810.2)--(1377,805.1)--(1381.8,805.1)--cycle;
\fill[cPink] (1390.5,842.2)--(1418.7,842.2)--(1418.7,903)--(1379.4,903)--(1379.4,864)--(1390.5,864)--cycle;
\fill[cLilac] (1428,842.2)--(1458.7,842.2)--(1458.7,864.5)--(1470.5,864.5)--(1470.5,903)--(1428,903)--cycle;

\draw[dsh] (783,768.4)--(936,768.4);
\draw[dsh] (783,837.5)--(936,837.5);
\draw[dsh] (844.5,700)--(844.5,905);
\draw[dsh] (982,768.4)--(1135,768.4);
\draw[dsh] (980,837.5)--(1135,837.5);
\draw[dsh] (1183,768.4)--(1336,768.4);
\draw[dsh] (1180,837.5)--(1336,837.5);
\draw[dsh] (1375,837.5)--(1475,837.5);
\draw[dsh] (1423.2,773)--(1423.2,905);

\pic at (776,697) {lowroom};
\pic at (974.6,697) {lowroom};
\pic at (1174.7,697) {lowroom};

% room 380
\draw[wall] (1377,706)--(1377,697)--(1475.9,697)--(1475.9,706);
\draw[wall] (1461.8,706.3)--(1461.8,727.8)--(1475.9,727.8)--(1475.9,793.4)--(1463,793.4)--(1463,815.5)--(1475.9,815.5);
\draw[wall] (1377,697)--(1377,800.6)--(1372.4,800.6)--(1372.4,816)--(1386.5,816);
\draw[wall] (1386.5,831.3)--(1372.4,831.3)--(1372.4,841.6)--(1386.5,841.6);
\draw[wall] (1386.5,859)--(1374.7,859)--(1374.7,903);
\draw[wall,rounded corners=2pt] (1374.7,900)--(1374.7,907.8)--(1475.9,907.8)--(1475.9,900);
\draw[wall] (1475.9,857)--(1463,857);
\draw[wall] (1475.9,857)--(1475.9,903);
\draw[wall] (1463,830.3)--(1475.9,830.3)--(1475.9,844.6)--(1463,844.6);
\draw[wall] (1377,769.8)--(1475.9,769.8);
\draw[wall] (1423,697)--(1423,769.8);
\draw[wall] (1377,746.7)--(1394.7,746.7)--(1394.7,769.8);
\pic[dl] at (1380,697) {door};
\pic[dr] at (1463,714.5) {door};
\pic[dl] at (1377,753.5) {door};
\pic[dl] at (1386.5,819.5) {door};
\pic[dl] at (1386.5,845.5) {door};
\pic[dr] at (1463,829) {door};
\pic[dr] at (1463,855) {door};
\pic[dr] at (1475.9,806) {door};
\pic[dr] at (1475.9,815) {door};
\pic at (1404.6,729) {man};
\pic at (1442.5,729) {woman};

% room labels
\node[panel] (gen) at (818.5,494) {1st Gen\\Power};
\node[panel] (succ) at (895.5,494) {College\\Success};
\node[panel] (surv) at (856.5,560.7) {Survivor Island};
\node[panel] (gpa) at (820.3,628.4) {What's\\Your GPA?};
\node[panel] (pursue) at (895.5,633.5) {How to\\Pursue\\Dream Job/\\Career};
\node[panel] (kpmg) at (1016,494.5) {Accounting/\\Technology\\KPMG};
\node[panel] (sher) at (1093.2,494.5) {Sheriff};
\node[panel] (bank) at (1016,560.7) {Banking/\\Wells Fargo};
\node[panel] (fbi) at (1090.7,560.3) {FBI};
\node[panel] (real) at (1016,628.4) {Real\\Estate};
\node[panel] (lawy) at (1092.7,629) {Being A\\Lawyer};
\node[panel] (soc) at (1212.8,495) {Social\\Work};
\node[panel] (doc) at (1291.9,495) {Doctor 101};
\node[panel] (cosm) at (1210.7,560.7) {Cosmetology};
\node[panel] (work) at (1289.5,563.8) {Workforce,\\Welding,\\HVAC,\\Business};
\node[panel] (court) at (1212.8,629) {Court\\Reporting};
\node[panel] (ath) at (1290,627) {Athletic\\Trainers};
\node[panel] (virt) at (1420,495) {Virtual Reality};
\node[panel] (arch) at (1419.6,560.7) {Architecture};
\node[panel] (driv) at (1420,630.4) {Driving\\Careers};
\node[panel,text=black] (lat) at (1020,312) {Latinos in\\Education};
\node[panel,text=black] (radio) at (1093,312) {Radio\\Broadcasting};
\node[panel,text=black] (auth) at (1020,389) {Author};
\node[panel,text=black] (libr) at (1097,389) {Librarian};
\node[panel] (data) at (1210.2,238.2) {Data\\Science};
\node[panel] (med) at (1290.2,238.2) {Medical\\Student\\Advice};
\node[panel] (ment) at (1217,312) {Mental\\Health};
\node[panel] (eng) at (1289.6,312.6) {Engineering};
\node[panel] (fire) at (1217,390.4) {Firefighter\\\& EMT};
\node[panel] (dent) at (1292.6,391.7) {Dental};
\node[panel] (sci) at (1419.6,232.8) {Science,\\Technology};
\node[panel] (proc) at (1422.6,312) {Process\\Technology};
\node[panel] (nasa) at (1422.6,391.7) {NASA};
\node[panel] (appr) at (813.9,728.2) {Appren-\\ticeship};
\node[panel] (psat) at (884,731.5) {PSAT\\SAT\\ACT};
\node[panel] (hand) at (813.9,794) {A\\Hand Up:\\Mentoring};
\node[panel] (hmw) at (817,868.5) {HMW\\Make It.\\Save It.};
\node[panel] (daca) at (886.6,870.3) {DACA};
\node[panel] (pay) at (1058,731.5) {How to Pay for College};
\node[panel] (sel) at (1058,805.3) {Selective Colleges:\\How to Get In};
\node[panel] (fafsa) at (1058,870.3) {FAFSA Internet Café};
\node[panel] (couns) at (1259.9,731) {Counselors};
\node[panel] (parent) at (1257.3,868.8) {Parent Academy};
\node[panel,rotate=90] (medics) at (1400.6,799.5) {Medics};
\node[panel,rotate=90] (secu) at (1401.8,875) {Security};
\node[panel,rotate=90] (hhf) at (1444,877.5) {HHF\\Office};

\node[bigtxt] (vipa) at (661.8,307.5) {VIP BREAKFAST/};
\node[bigtxt] (vipb) at (661.8,340.7) {INTRODUCTIONS};
\node[bigtxt] (opena) at (479.2,730.5) {OPENING};
\node[bigtxt] (openb) at (479.2,763.8) {CEREMONY};

% section letters
\foreach \ltr/\lx/\ly in {C/787/511.5,F/924.4/511.5,B/788.4/588.8,E/923.6/588.8,A/781.2/638.6,D/929.2/638.6,
	C/987.9/511.5,F/1122.6/511.5,B/987.9/588.8,E/1122.6/588.8,A/982.3/639.2,D/1128.2/639.2,
	C/1185.8/511.5,F/1319.9/511.5,B/1185.8/588.8,E/1319.9/588.8,A/1178.7/639.2,D/1326/639.2,
	C/1381/511.5,B/1381.8/588.8,A/1375/639.2,
	B/995.5/342,E/1121/342,A/995.5/418.5,D/1125.5/418.5,
	C/1185.8/260.9,F/1319/260.9,B/1191.7/342,E/1317.6/342,A/1192.6/418.5,D/1325.5/418.5,
	C/1456.4/260.9,B/1455.8/340,A/1462.6/418.5,
	C/800.6/753.8,F/916.5/753.8,B/800.6/823.5,A/799/896,D/917.2/894.9,
	C/999.4/753.8,F/1116.2/753.8,B/999.4/823.5,E/1116.2/823.5,A/999.4/894.9,D/1116.7/894.9,
	C/1200.6/753.8,F/1313.5/753.8,A/1199.4/894.9,D/1314.2/894.9,
	B/1414/824,A/1385.8/894.9,C/1464/894.9}
	\node[letter] (s\lx) at (\lx,\ly) {\ltr};

% room numbers
\node[number] (n342) at (657,449) {342};
\node[number] (n362) at (1052,449) {362};
\node[number] (n372) at (1252,449) {372};
\node[number] (n382) at (1426,449) {382};
\node[number] (n351) at (851,679) {351};
\node[number] (n361) at (1049,679) {361};
\node[number] (n371) at (1248,679) {371};
\node[number] (n381) at (1419,679) {381};
\node[number,text=white] (n350) at (857,928) {350};
\node[number,text=white] (n360) at (1054,928) {360};
\node[number,text=white] (n370) at (1253,928) {370};
\node[number,text=white] (n380) at (1425,928) {380};

% legend
\legendbox{lpub}{69.2}{cPurple}{blue!85!violet}{white!55!cPurple}{Public Service Panel}
\legendbox{llib}{127.4}{cYellow}{yellow}{white!50!yellow}{Liberal Arts Panel}
\legendbox{lbus}{185.3}{cRed}{purple!75!red}{white!50!cRed}{Business Panels}
\legendbox{lstem}{243.3}{cOrange}{orange!90!red}{white!50!cOrange}{STEM Panels}
\legendbox{lcar}{301.2}{cBlue}{cHall}{white!50!cBlue}{Career \& College Prep Panels}
\legendbox{lmid}{359}{cGreen}{green!70!lime}{white!50!cGreen}{\scalebox{1.07}[1]{Middle School Program}}
\legendbox{lfin}{417}{cGrey}{cBand}{white!50!cGrey}{\scalebox{1.08}[1]{Finanical Aid Plaza}}

% direction sign
\filldraw[cGreen,draw=black,line width=.9pt] (68.7,740) -- (313,740) .. controls (331,740) and (343,752) .. (343,770) -- (343,907.5) -- (100,907.5) .. controls (82,907.5) and (68.7,895) .. (68.7,877) -- cycle;
\arrowicon{759.6}
\arrowicon{803.2}
\arrowicon{846.7}
\node[signtxt] (sbridge) at (131,786.8) {\scalebox{1.015}[1]{BridgeYear, Room 310}};
\node[signtxt] (slunch) at (131,829.3) {Lunch in Ballroom};
\node[signtxt] (sexhib) at (131,871.9) {\scalebox{1.07}[1]{Exhibitors, Hall B3}};
\end{tikzpicture}
\end{document}
